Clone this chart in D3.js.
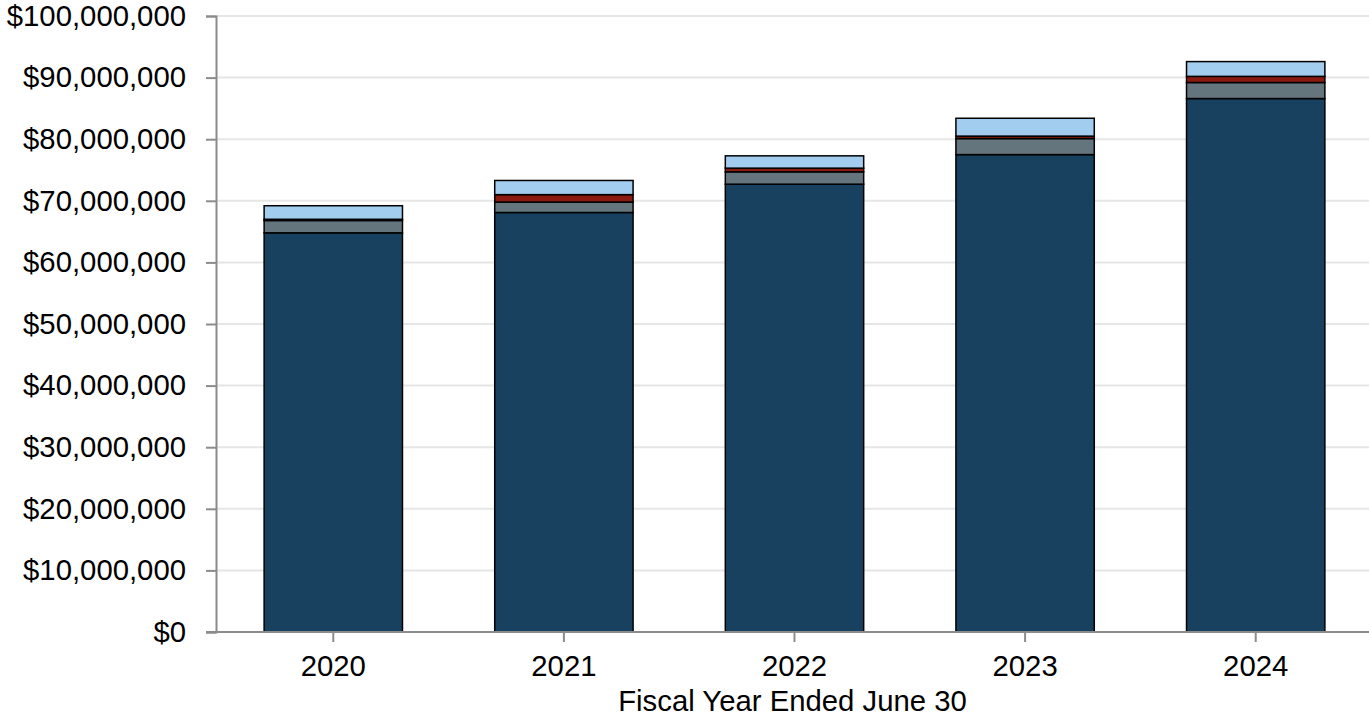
<!DOCTYPE html>
<html>
<head>
<meta charset="utf-8">
<script src="https://cdn.jsdelivr.net/npm/d3@7"></script>
<style>
  html, body { margin: 0; padding: 0; background: #fff; }
  svg { display: block; font-family: "Liberation Sans", Arial, sans-serif; }
</style>
</head>
<body>
<div id="chart"></div>
<script>
// Values (dollars, millions)
const years = ['2020', '2021', '2022', '2023', '2024']
const seriesKeys = ['base', 'gray', 'red', 'light']
const baseVals = [64.8, 68.1, 72.7, 77.5, 86.6]
const grayVals = [2.0, 1.7, 2.0, 2.6, 2.6]
const redVals = [0.2, 1.2, 0.6, 0.4, 1.0]
const lightVals = [2.2, 2.3, 2.0, 2.9, 2.4]
const yTicks = [0, 10, 20, 30, 40, 50, 60, 70, 80, 90, 100]

const colors = { base: '#17415f', gray: '#65757e', red: '#8b1a10', light: '#a3cdee' }

const width = 1369
const height = 725
const margin = { top: 16, right: 0, bottom: 93, left: 216 }
const fontSize = '29.3px'

const rows = years.map((y, i) => ({
  year: y, base: baseVals[i] * 1e6, gray: grayVals[i] * 1e6,
  red: redVals[i] * 1e6, light: lightVals[i] * 1e6
}))
const stacked = d3.stack().keys(seriesKeys)(rows)

const svg = d3.select('#chart').append('svg')
  .attr('width', width).attr('height', height)

const x = d3.scaleBand().domain(years)
  .range([margin.left + 2, width - margin.right + 2])
  .paddingInner(0.4).paddingOuter(0.2)
const y = d3.scaleLinear().domain([0, 100e6]).range([height - margin.bottom, margin.top])

// Grid lines
svg.append('g').selectAll('line').data(yTicks.slice(1)).join('line')
  .attr('x1', margin.left).attr('x2', width - margin.right)
  .attr('y1', d => y(d * 1e6)).attr('y2', d => y(d * 1e6))
  .attr('stroke', '#e6e6e6').attr('stroke-width', 2)

// Bars
svg.append('g').selectAll('g').data(stacked).join('g')
  .attr('fill', d => colors[d.key])
  .selectAll('rect').data(d => d).join('rect')
  .attr('x', d => x(d.data.year)).attr('width', x.bandwidth())
  .attr('y', d => y(d[1])).attr('height', d => y(d[0]) - y(d[1]))
  .attr('stroke', '#000').attr('stroke-width', 1.5)

// Y axis
const yAxis = svg.append('g').attr('transform', `translate(${margin.left},0)`)
  .call(d3.axisLeft(y).tickValues(yTicks.map(v => v * 1e6)).tickSize(10).tickPadding(20)
    .tickFormat(v => '$' + d3.format(',')(v)))
yAxis.select('.domain').attr('stroke', '#8c8c8c').attr('stroke-width', 2)
yAxis.selectAll('.tick line').attr('stroke', '#8c8c8c').attr('stroke-width', 2)
yAxis.selectAll('.tick text').attr('fill', '#000').style('font-size', fontSize)
  .attr('font-family', '"Liberation Sans", Arial, sans-serif')

// X axis
const xAxis = svg.append('g').attr('transform', `translate(0,${y(0)})`)
  .call(d3.axisBottom(x).tickSize(10).tickPadding(13).tickSizeOuter(0))
xAxis.select('.domain').attr('d', `M${margin.left - 10},0H${width}`)
  .attr('stroke', '#8c8c8c').attr('stroke-width', 2)
xAxis.selectAll('.tick line').attr('stroke', '#8c8c8c').attr('stroke-width', 2)
xAxis.selectAll('.tick text').attr('fill', '#000').style('font-size', fontSize)
  .attr('font-family', '"Liberation Sans", Arial, sans-serif')

svg.append('text')
  .attr('x', (margin.left + width) / 2).attr('y', 711)
  .attr('text-anchor', 'middle').style('font-size', fontSize).attr('fill', '#000')
  .text('Fiscal Year Ended June 30')
</script>
</body>
</html>
